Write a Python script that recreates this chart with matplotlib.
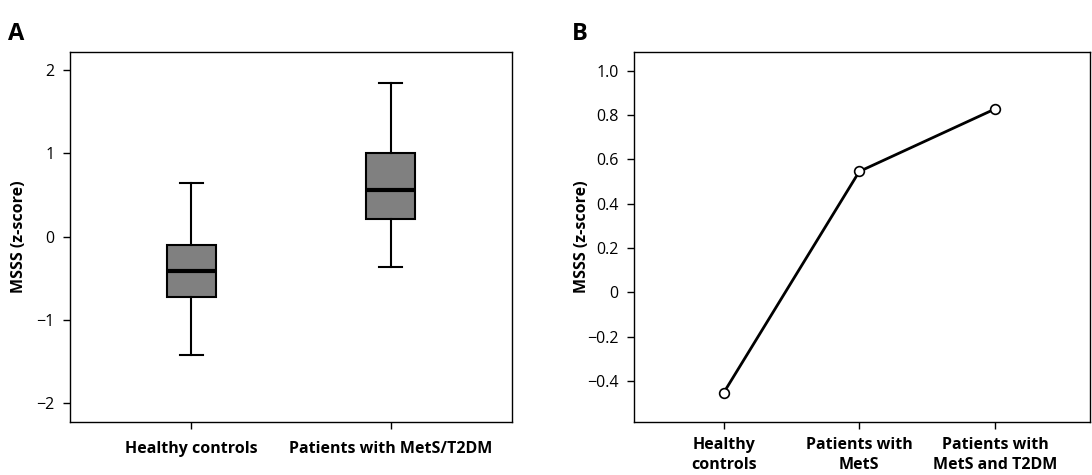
import matplotlib.pyplot as plt
import numpy as np

plt.rcParams['font.family'] = ['Open Sans', 'DejaVu Sans']

# panel A: box summaries
groups_a = ['Healthy controls', 'Patients with MetS/T2DM']
whisker_low = [-1.42, -0.36]
q1 = [-0.73, 0.21]
median = [-0.41, 0.56]
q3 = [-0.10, 1.00]
whisker_high = [0.64, 1.85]

# panel B: group means
groups_b = ['Healthy\ncontrols', 'Patients with\nMetS', 'Patients with\nMetS and T2DM']
means_b = [-0.454, 0.545, 0.827]

fig = plt.figure(figsize=(10.92, 4.75), dpi=100)
ax1 = fig.add_axes([70/1092, 1 - 422/475, 442/1092, 370/475])
ax2 = fig.add_axes([634/1092, 1 - 422/475, 456/1092, 370/475])

stats = []
for i in range(len(groups_a)):
    stats.append(dict(whislo=whisker_low[i], q1=q1[i], med=median[i],
                      q3=q3[i], whishi=whisker_high[i], fliers=[]))
ax1.bxp(stats, positions=[1, 2], widths=0.25, patch_artist=True,
        boxprops=dict(facecolor='#808080', edgecolor='black', linewidth=1.5),
        medianprops=dict(color='black', linewidth=3),
        whiskerprops=dict(color='black', linewidth=1.5),
        capprops=dict(color='black', linewidth=1.5), capwidths=0.12)
ax1.set_xlim(0.39, 2.61)
ax1.set_ylim(-2.23, 2.22)
ax1.set_yticks([-2, -1, 0, 1, 2])
ax1.set_xticks([1, 2])
ax1.set_xticklabels(groups_a, fontweight='bold', fontsize=10.5)
ax1.set_ylabel('MSSS (z-score)', fontsize=11.5, fontweight='bold', labelpad=7)

x_b = np.arange(1, len(groups_b) + 1)
ax2.plot(x_b, means_b, color='black', linewidth=2, marker='o',
         markersize=7, markerfacecolor='white', markeredgecolor='black',
         markeredgewidth=1.2)
ax2.set_xlim(0.34, 3.7)
ax2.set_ylim(-0.585, 1.084)
ax2.set_yticks([-0.4, -0.2, 0, 0.2, 0.4, 0.6, 0.8, 1.0])
ax2.set_yticklabels(['\u22120.4', '\u22120.2', '0', '0.2', '0.4', '0.6', '0.8', '1.0'])
ax2.set_xticks(x_b)
ax2.set_xticklabels(groups_b, fontweight='bold', fontsize=10.5, linespacing=1.3)
ax2.set_ylabel('MSSS (z-score)', fontsize=11.5, fontweight='bold', labelpad=-2)

for ax in (ax1, ax2):
    ax.tick_params(direction='out', length=5, width=1, labelsize=11.5, pad=6)
    for s in ax.spines.values():
        s.set_linewidth(1)
ax1.tick_params(axis='x', pad=9)

fig.text(8/1092, 1 - 40/475, 'A', fontsize=17, fontweight='bold')
fig.text(572/1092, 1 - 40/475, 'B', fontsize=17, fontweight='bold')

fig.savefig('out.png', dpi=100)
